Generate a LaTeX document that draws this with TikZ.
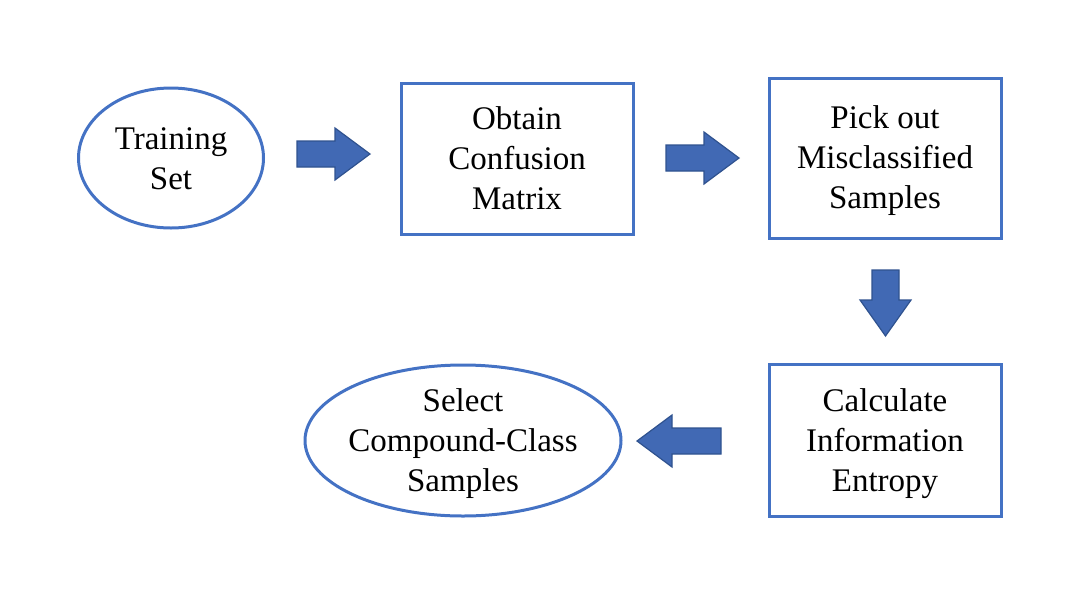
\documentclass[tikz,border=0pt]{standalone}
\usepackage{fontspec}
\setmainfont{Liberation Serif}
\usetikzlibrary{shapes.geometric}
\definecolor{bord}{HTML}{4472C4}
\definecolor{afill}{HTML}{4169B4}
\definecolor{aline}{HTML}{2F528F}
\begin{document}
\begin{tikzpicture}[x=1pt,y=-1pt,
  every node/.style={font=\fontsize{33}{40}\selectfont, align=center, inner sep=0pt},
  boxn/.style={draw=bord, line width=3pt, rectangle},
  elln/.style={draw=bord, line width=3pt, ellipse},
  blockarrow/.style={fill=afill, draw=aline, line width=1.2pt, line join=miter}]
\useasboundingbox (0,0) rectangle (1081,595);
\node[elln, minimum width=185pt, minimum height=140pt] (train) at (171,158) {};
\node (traint) at (171,159) {Training\\Set};
\node[boxn, minimum width=232pt, minimum height=151pt] (conf) at (517,158.5) {};
\node (conft) at (517,158.5) {Obtain\\Confusion\\Matrix};
\node[boxn, minimum width=232pt, minimum height=160pt] (pick) at (885,158) {};
\node (pickt) at (885,161) {Pick out\\Misclassified\\Samples};
\node[boxn, minimum width=232pt, minimum height=152pt] (calc) at (885,440) {};
\node (calct) at (885,444) {Calculate\\Information\\Entropy};
\node[elln, minimum width=316pt, minimum height=151pt] (sel) at (463,440.5) {};
\node (selt) at (463,443.5) {Select\\Compound-Class\\Samples};
% block arrows
\draw[blockarrow] (297,141) -- (335,141) -- (335,128) -- (370,154) -- (335,180) -- (335,167) -- (297,167) -- cycle;
\draw[blockarrow] (666,145) -- (704,145) -- (704,132) -- (739,158) -- (704,184) -- (704,171) -- (666,171) -- cycle;
\draw[blockarrow] (872,270) -- (899,270) -- (899,300) -- (911,300) -- (885.5,336) -- (860,300) -- (872,300) -- cycle;
\draw[blockarrow] (721,428) -- (672,428) -- (672,415) -- (637,441) -- (672,467) -- (672,454) -- (721,454) -- cycle;
\end{tikzpicture}
\end{document}
